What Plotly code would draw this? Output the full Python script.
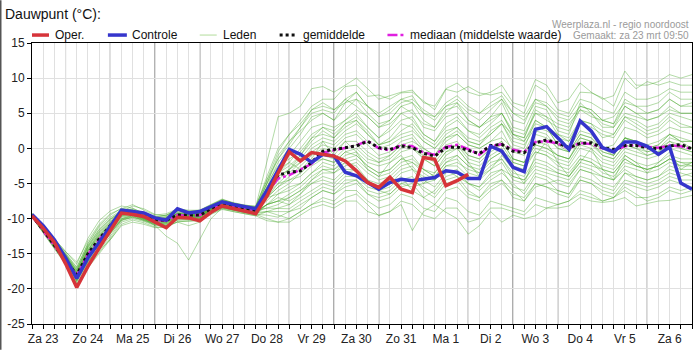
import pandas as pd
import plotly.graph_objects as go

# ---------------- data ----------------
times = pd.date_range("2024-03-23 06:00", periods=60, freq="6h")
day_dates = pd.date_range("2024-03-23", periods=15, freq="D")
day_labels = ["Za 23", "Zo 24", "Ma 25", "Di 26", "Wo 27", "Do 28", "Vr 29", "Za 30",
              "Zo 31", "Ma 1", "Di 2", "Wo 3", "Do 4", "Vr 5", "Za 6"]
y_ticks = [-25, -20, -15, -10, -5, 0, 5, 10, 15]
y_tick_labels = ["-25", "-20", "-15", "-10", "-5", "0", "5", "10", "15"]

oper = [-9.6, -11.4, -13.4, -16.4, -19.8, -16.8, -14.2, -11.8, -9.2, -9.4, -9.7, -10.5, -11.3, -9.8,
        -9.9, -10.3, -9.1, -8.2, -8.6, -9.0, -9.3, -6.8, -3.5, -0.5, -1.8, -0.6, -0.85, -1.1, -1.8,
        -3.2, -4.85, -5.55, -4.1, -5.8, -6.3, -1.3, -1.55, -5.3, -4.6, -3.7]
controle = [-9.4, -11.0, -13.0, -15.6, -18.5, -15.6, -13.4, -11.2, -8.8, -9.0, -9.2, -9.9, -10.2, -8.6,
            -9.2, -9.0, -8.3, -7.6, -8.0, -8.3, -8.6, -6.0, -3.0, -0.15, -0.85, -2.0, -0.85, -1.1, -3.4,
            -3.9, -4.85, -5.8, -4.85, -4.4, -4.6, -4.4, -4.15, -3.2, -3.4, -4.3, -4.3, 0.3, -0.4, -2.7,
            -3.3, 2.7, 3.1, 1.5, -0.15, 3.9, 2.45, 0.1, -0.5, 0.9, 0.9, 0.3, -0.85, 0.2, -4.95, -5.8]
gemiddelde = [-9.6, -11.6, -13.8, -16.0, -18.0, -15.0, -12.9, -11.0, -9.1, -9.1, -9.7, -10.2, -10.2, -9.5,
              -9.5, -9.5, -8.6, -7.9, -8.3, -8.5, -8.8, -6.0, -3.8, -3.4, -3.2, -2.0, -0.4, -0.15, 0.1,
              0.35, 1.0, 0.1, -0.15, 0.35, 0.1, -0.7, -1.1, 0.1, 0.2, -0.3, -0.75, 0.4, 0.55, -0.4, -0.6,
              0.8, 1.2, 0.8, 0.1, 0.7, 0.8, 0.1, -0.15, 0.4, 0.4, 0.1, -0.05, 0.35, 0.55, -0.05]
mediaan = [-9.6, -11.7, -13.8, -16.0, -18.1, -15.1, -13.0, -11.1, -9.2, -9.1, -9.7, -10.2, -10.3, -9.5,
           -9.6, -9.5, -8.6, -7.9, -8.3, -8.6, -8.8, -6.4, -4.3, -3.8, -3.0, -2.2, -0.6, -0.3, 0.0, 0.4,
           1.1, 0.0, -0.3, 0.5, 0.3, -0.6, -0.9, 0.2, 0.5, -0.1, -0.9, 0.3, 0.6, -0.2, -0.5, 0.9, 1.0,
           0.7, 0.0, 0.8, 0.6, 0.0, -0.3, 0.3, 0.5, 0.2, 0.1, 0.4, 0.3, -0.1]

m01 = [-9.4, -11.2, -13, -15, -17, -13.5, -11, -9.5, -8.5, -8.8, -9.5, -10, -9.8, -9, -9.3, -9.2, -8.4, -7.6, -8, -8.4, -8.6,
       -5, -1, 1, 2.5, 4, 5, 4, 5.5, 7, 6, 4.5, 5, 6.5, 7, 5.5, 4.5, 6, 7, 5.5, 5, 6, 7, 5, 4, 6.5, 6, 4.5, 4, 6, 5.5,
       4, 4.5, 6.5, 6, 5, 5.5, 7, 6, 6.5]
m02 = [-9.6, -11.8, -13.8, -16, -18.5, -14.5, -12, -10.5, -9, -8.2, -8.6, -9.4, -9.6, -8.6, -8.8, -8.8, -8, -7.2, -7.8, -8.2, -8.3,
       -2, 4.5, 5, 6, 8.5, 8.8, 8, 9, 10, 8.5, 7, 7.5, 8, 8.3, 6.5, 6, 8.5, 9.3, 8, 7.5, 8, 9, 6.5, 6, 9.8, 9, 6.5, 7, 9.3, 8,
       7, 7.5, 11, 9, 9, 9.5, 10.5, 10, 10.5]
m03 = [-9.2, -11, -12.8, -14.6, -16.5, -12.8, -10.3, -8.9, -8.2, -8.5, -9.3, -9.8, -9.5, -8.7, -9, -8.9, -8.1, -7.3, -7.8, -8.1, -8.3,
       -4.5, -0.5, 2, 4, 6, 7, 7, 8.8, 9, 7.4, 7.6, 7, 7.9, 8, 6.7, 5.5, 8.4, 8, 8.8, 7.9, 7.6, 8, 6, 5, 9, 8, 5.5, 5, 8, 7.9,
       7.2, 6, 10, 8.5, 9.5, 9, 9.5, 9, 9]
m04 = [-9.6, -11.6, -13.6, -15.8, -18.2, -15.5, -13.5, -11.5, -9.6, -9.3, -9.8, -10.4, -10.5, -9.7, -9.7, -9.7, -8.8, -8.1, -8.4, -8.7, -8.9,
       -6, -3, -1, 1, 3, 3.5, 3, 4, 5.5, 4.5, 3, 3.5, 5, 5.5, 3, 2.5, 4.5, 5, 3.5, 3, 4, 5, 2.5, 2, 5, 4.5, 2, 1.5, 4, 3.5,
       2.5, 2, 4.5, 4, 3, 3.5, 5, 4.5, 4]
m05 = [-9.5, -11.4, -13.4, -15.4, -17.8, -14.8, -12.8, -11, -9.3, -9.2, -9.6, -10.1, -10.1, -9.4, -9.6, -9.4, -8.6, -7.8, -8.2, -8.5, -8.7,
       -5.5, -2, 0, 2, 4.5, 5, 4, 6.5, 7, 5, 3.5, 4, 6, 6.5, 4, 3, 5.5, 6, 4, 3, 4.5, 6.5, 3, 2.5, 6, 5.5, 2.5, 2, 6.5, 5,
       3, 3, 5, 4.5, 4, 4.5, 6, 5, 5]
m06 = [-9.5, -11.6, -13.6, -15.6, -18, -15.2, -13.2, -11.2, -9.4, -9, -9.5, -10, -10.3, -9.6, -9.4, -9.6, -8.7, -8, -8.2, -8.6, -8.8,
       -6.5, -4.5, -3, -1.5, 0.5, 1.5, 1, 2.5, 3.5, 2, 0.5, 1, 2.5, 3.5, 1.5, 0.5, 2.5, 3, 1.5, 1, 2, 3.5, 0.5, 0, 4, 3, 0.5, 0, 2.5, 2,
       0, 0.5, 3, 2.5, 1.5, 2, 3, 2.5, 2]
m07 = [-9.7, -11.9, -14, -16, -18.6, -16, -14, -12, -10, -9.5, -10, -10.6, -10.6, -9.8, -9.9, -9.8, -8.9, -8.2, -8.6, -8.9, -9,
       -7, -5, -3.5, -2, 0, 1, 0.5, 2, 2.5, 1, 0, 0.5, 1.5, 2, 0, -1, 1, 2, 0.5, 0, 1, 2.5, -0.5, -1, 2, 1.5, 0, -0.5, 2, 1.5,
       -0.5, -1, 1.5, 1, 0, 0.5, 2, 1.5, 1]
m08 = [-9.4, -11.3, -13.3, -15.3, -17.6, -14.2, -12.2, -10.6, -9.1, -9, -9.6, -10.2, -10, -9.3, -9.5, -9.4, -8.5, -7.8, -8.2, -8.5, -8.7,
       -6, -4, -3, -2, -0.5, 0.5, 0, 1.5, 2, 0.5, -1, -0.5, 1, 1.5, -0.5, -1.5, 0.5, 1, -1, -1.5, 0, 1, -1.5, -2, 0.5, 0, -1, -1.5, 1, 0.5,
       -1, -1.5, 0.5, 0, -0.5, 0, 1, 0.5, 0]
m09 = [-9.6, -11.7, -13.8, -15.9, -18.4, -15.6, -13.6, -11.6, -9.7, -9.4, -9.9, -10.5, -10.4, -9.7, -9.8, -9.7, -8.8, -8.1, -8.5, -8.8, -8.9,
       -7.5, -6, -5, -3.5, -2, -1, -1.5, 0, 0.5, -1, -2, -1.5, 0, 0.5, -1.5, -2.5, -0.5, 0, -2, -2.5, -1, 0, -2.5, -3, -0.5, -1, -2, -2.5, 0, -0.5,
       -2, -2.5, -0.5, -1, -1.5, -1, 0, -0.5, -1]
m10 = [-9.5, -11.5, -13.5, -15.6, -18.1, -15.1, -13.1, -11.1, -9.3, -9.2, -9.8, -10.3, -10.3, -9.6, -9.6, -9.5, -8.7, -8, -8.4, -8.7, -8.8,
       -7, -6.5, -6, -5, -3.5, -2.5, -3, -1.5, -1, -2.5, -3.5, -3, -1.5, -1, -3, -4, -2, -1.5, -3.5, -4, -2.5, -1.5, -4, -4.5, -2, -2.5,
       -3.5, -4, -1.5, -2, -3.5, -4, -2, -2.5, -3, -2.5, -1.5, -2, -2.5]
m11 = [-9.8, -12, -14.2, -16.3, -19, -16.5, -14.5, -12.5, -10.3, -9.8, -10.2, -10.8, -10.8, -10, -10, -10, -9, -8.4, -8.7, -9, -9.2,
       -8, -7.5, -7, -6, -5, -4, -4.5, -3, -3, -4.5, -5, -4.5, -3, -2.5, -4.5, -5.5, -3.5, -3, -5, -5.5, -4, -3, -5.5, -6, -3.5, -4,
       -5, -5.5, -3, -3.5, -5, -5.5, -3.5, -4, -4.5, -4, -3, -3.5, -4]
m12 = [-9.3, -11.4, -13.4, -15.4, -17.9, -15, -13, -11, -9.2, -9.1, -9.7, -10.2, -10.2, -9.5, -9.6, -9.5, -8.6, -7.9, -8.3, -8.6, -8.8,
       -8.5, -8.5, -8.6, -7.5, -6.5, -5.5, -6, -4.5, -4.5, -6, -6.5, -6, -4.5, -4, -6, -7, -5, -4.5, -6.5, -7, -5.5, -4.5, -7, -7.5, -5, -5.5,
       -6.5, -7, -4.5, -5, -6.5, -7, -5, -5.5, -6, -5.5, -4.5, -5, -5.5]
m13 = [-9.7, -12, -14.2, -16.4, -19.2, -16.8, -14.8, -12.8, -10.5, -10, -10.4, -11, -11, -10.2, -10.2, -10.1, -9.2, -8.5, -8.8, -9.1, -9.4,
       -10, -10.5, -10, -9, -8, -7.5, -8, -7, -6.5, -8, -9.6, -9, -8, -11.7, -9, -8, -9.1, -10, -12.2, -11, -9, -10.5, -9.5, -10, -9.6, -8.5,
       -8.5, -8.2, -7, -7.5, -7.7, -7.5, -7, -8.2, -7.8, -7.5, -7.4, -7, -6.7]
m14 = [-9.5, -11.3, -13.2, -15.2, -17.4, -13.8, -11.5, -10, -9, -9, -9.6, -10.1, -9.9, -9.2, -9.4, -9.3, -8.5, -7.7, -8.1, -8.5, -8.6,
       -5.5, -3, -2, -3, -1.5, 1, -1, 1, -0.5, -3, -4, -2, -1, -3, -5, -3.5, -1, 0, -2, -4, -3, -1, -3, -5, -1, 1,
       -2, -4, -2, 0, -3, -4.5, -1, -2, -3.5, -2, -0.5, -3, -2]
m15 = [-9.6, -11.6, -13.7, -15.7, -18.3, -15.3, -13.3, -11.3, -9.5, -9.3, -9.8, -10.3, -10.4, -9.6, -9.7, -9.6, -8.7, -8.1, -8.4, -8.7, -8.9,
       -7, -5.5, -4.5, -4, -2.5, -1.5, -2, -0.5, 0, -1.5, -2, -1, 0.5, 1, 0, -1, 1.5, 2.5, 1, 0.5, 2, 3.5, 2, 1.5, 5, 4,
       3, 2.5, 5.5, 4.5, 4, 3.5, 6, 5, 5, 5.5, 7, 6, 6]
m16 = [-9.3, -11.1, -12.9, -14.7, -16.2, -13.2, -10.8, -9.3, -8.6, -8, -8.8, -9.5, -9.3, -8.6, -8.9, -8.8, -8, -7.3, -7.7, -8.1, -8.2,
       -4.5, -1.5, 1, 3, 5, 5.5, 5, 7, 8, 6, 5, 6, 7, 7.5, 5, 4, 6, 6.5, 4, 3, 4.5, 5, 2, 1, 4, 3,
       0.5, -0.5, 2, 1.5, 0, -1, 1.5, 0.5, -0.5, 0, 1.5, 1, 0]
m17 = [-9.7, -11.8, -13.9, -16.1, -18.7, -16.2, -14.2, -12.2, -10.1, -9.6, -10.1, -10.7, -10.7, -9.9, -9.9, -9.9, -9, -8.3, -8.6, -9, -9.1,
       -8, -7.5, -8, -7, -6, -5, -5.5, -4, -4, -5.5, -6, -5, -3.5, -3, -4, -4.5, -2.5, -2, -3, -3.5, -1.5, -0.5, -1.5, -2, 0.5, 0,
       -1, -1.5, 1, 0.5, -0.5, -1, 1.5, 1, 0, 0.5, 2, 1, 1]
m18 = [-9.4, -11.4, -13.4, -15.4, -17.7, -14.4, -12.4, -10.8, -9.2, -9.1, -9.6, -10.1, -10.1, -9.4, -9.5, -9.4, -8.6, -7.9, -8.3, -8.6, -8.8,
       -6, -3.5, -2, 0, 2, 3, 2.5, 4, 5, 3, 1.5, 2.5, 4, 4.5, 2, 1, 3, 4, 2.5, 2, 3.5, 5, 2, 1.5, 5.5, 4.5,
       3.5, 3, 6, 5.5, 4, 3.5, 7, 6, 6, 6.5, 8, 7, 7]
m19 = [-9.5, -11.5, -13.3, -15.3, -17.8, -14.6, -12.5, -10.8, -9.4, -9.3, -10, -11, -12.5, -13.5, -15.9, -13, -10, -8.5, -8.8, -9.2, -9.5,
       -8, -6.5, -5.5, -5, -3.5, -2, -2.5, -1, -0.5, -2, -2.5, -2, -0.5, 0, -1.5, -2.5, -0.5, 0.5, -1, -1.5, 0, 1, -1.5, -2, 1, 0.5,
       -1, -1.5, 1.5, 1, -1, -1.5, 0.5, 0, -1, -0.5, 1, 0, -0.5]
m20 = [-9.6, -11.8, -14, -16.2, -18.8, -16, -14.5, -13, -11, -10.5, -10.8, -11.3, -11.2, -10.5, -10.3, -10.2, -9.3, -8.6, -9, -9.3, -9.6,
       -9, -8.5, -8, -6.5, -4.5, -3.5, -3.5, -2, -1.5, -3, -4, -3.5, -2, -1.5, -3, -4, -2, -1, -2.5, -3, -1.5, -0.5, -2, -2.5, -0.5, -1,
       -2.5, -3, -1, -1.5, -2.5, -3, -1, -2, -2.5, -2, -1, -1.5, -1.5]
m21 = [-9.4, -11.2, -13.1, -15.1, -17.3, -14, -11.8, -10.2, -9, -9, -9.5, -10, -9.9, -9.1, -9.3, -9.3, -8.4, -7.7, -8.1, -8.4, -8.6,
       -5, -2.5, -1.5, -0.5, 1.5, 2, 1.5, 3, 4, 2.5, 0.5, 1, 2, 2.5, 1, 0, 1.5, 2, 0.5, 0, 1, 1.5, 0, -0.5, 2.5, 2,
       0, -0.5, 1.5, 1, 0, -0.5, 1.5, 1, 0.5, 1, 2, 1, 1]
m22 = [-9.7, -11.9, -14.1, -16.2, -18.9, -16.3, -14, -12, -10.2, -9.8, -10.3, -10.9, -11, -10.2, -10.1, -10, -9.1, -8.4, -8.8, -9.1, -9.4,
       -9.5, -9.8, -9, -8.5, -7, -6, -6.5, -5, -4.5, -6.5, -7.5, -7, -5.5, -5, -7, -8, -6, -5.5, -7, -7.5, -6, -5, -6.5, -7, -5, -5.5,
       -6, -6.5, -4.5, -5, -6, -6.5, -4.5, -5, -5.5, -5, -4, -4.5, -4.5]
m23 = [-9.5, -11.6, -13.7, -15.8, -18.3, -15.4, -13.4, -11.4, -9.6, -9.3, -9.9, -10.4, -10.5, -9.7, -9.7, -9.6, -8.8, -8.1, -8.5, -8.8, -9,
       -8, -7, -7.5, -6.5, -5, -4.5, -5, -3.5, -3, -5, -6, -5.5, -4, -6, -7, -6, -4, -3.5, -5, -6, -4.5, -3.5, -5, -6.5, -4, -4.5,
       -6, -6.5, -4, -4.5, -5.5, -6, -3.5, -4.5, -5, -4.5, -3.5, -4, -3.5]
m24 = [-9.6, -11.7, -13.9, -16, -18.6, -15.8, -13.8, -11.8, -10, -9.6, -10.1, -10.7, -10.6, -9.9, -9.9, -9.8, -8.9, -8.2, -8.6, -8.9, -9.1,
       -9, -9.5, -10, -9, -8, -7, -7.5, -6, -6, -7.5, -8.5, -8, -6.5, -7, -8.5, -9, -7, -7.5, -9, -9.5, -7.5, -8, -8.5, -9, -7, -7.5,
       -8, -7.5, -6, -6.5, -7.5, -7, -5.5, -6.5, -7.5, -7, -6, -6.5, -6]
m25 = [-9.4, -11.3, -13.2, -15.2, -17.5, -14.1, -11.9, -10.4, -9.1, -9, -9.6, -10.1, -10, -9.3, -9.4, -9.3, -8.5, -7.8, -8.2, -8.5, -8.7,
       -6.5, -5, -4.5, -3.5, -2, -1.5, -2, -0.5, -1, -2.5, -3.5, -3, -1.5, -2, -3, -3.5, -1.5, -1, -2.5, -3.5, -2, -1.5, -3.5, -4, -1.5, -2,
       -3, -3.5, -1.5, -2, -3, -3.5, -1.5, -2.5, -3, -2.5, -1.5, -2.5, -2]
m26 = [-9.5, -11.5, -13.5, -15.5, -18, -15, -12.8, -11, -9.3, -9.2, -9.8, -10.5, -11, -10.5, -11, -10.5, -9.2, -8.3, -8.5, -8.8, -9,
       -8.5, -8, -7, -6, -4.5, -3, -3, -2, -2.5, -4.5, -6, -6.5, -5, -5.5, -5, -4.5, -3, -4, -6, -7, -5, -4.5, -6, -7.5, -5.5, -5,
       -4.5, -5, -3, -3.5, -4, -4.5, -3, -4, -4.5, -4, -2.5, -3, -3]
m27 = [-9.5, -11.4, -13.5, -15.6, -17.9, -14.7, -12.6, -10.9, -9.2, -8.9, -9.5, -10, -10, -9.3, -9.4, -9.3, -8.5, -7.8, -8.1, -8.4, -8.6,
       -6, -3.5, -2.5, -1, 1.5, 3, 2, 3.5, 4.5, 3, 1.5, 3, 5, 4, 2, 1, 3.5, 4.5, 2.5, 1.5, 3, 4, 1.5, 1, 3.5, 3,
       2, 1, 4, 3.5, 1.5, 2, 4.5, 3.5, 2.5, 3, 4.5, 3.5, 3]
m28 = [-9.6, -11.5, -13.6, -15.7, -18.2, -15.4, -13.3, -11.3, -9.4, -9.2, -9.7, -10.3, -10.2, -9.5, -9.6, -9.6, -8.7, -8, -8.4, -8.7, -8.8,
       -7, -5.5, -4, -2.5, -1, 0, -0.5, 1, 1, -0.5, -1.5, -1, 0.5, 0, -1, -2, 0, 0.5, -1.5, -2, -0.5, 0.5, -2, -2.5, 0, -0.5,
       -1.5, -2, 0.5, 0, -1.5, -2, 0, -0.5, -1, -0.5, 0.5, 0, -0.5]
m29 = [-9.4, -11.3, -13.2, -15.1, -17.2, -13.9, -11.6, -10.1, -8.9, -8.7, -9.3, -9.8, -9.7, -8.9, -9.1, -9.1, -8.2, -7.5, -7.9, -8.3, -8.4,
       -5, -1.5, 0.5, 3, 5.5, 6.5, 5.5, 7, 6, 4.5, 3, 4, 6, 5, 3.5, 3, 5, 6.5, 5, 4, 5.5, 7, 4, 3.5, 7, 6,
       4, 3.5, 5.5, 5, 3.5, 3, 6, 5, 4, 4.5, 5.5, 5, 5]
m30 = [-9.6, -11.7, -13.9, -16, -18.5, -15.7, -13.7, -11.7, -9.8, -9.5, -10, -10.5, -10.5, -9.8, -9.8, -9.7, -8.8, -8.1, -8.5, -8.8, -9,
       -8, -7.5, -6.5, -5.5, -4, -3, -3.5, -2.5, -2, -3.5, -4.5, -4, -2.5, -2, -3.5, -4.5, -2.5, -2.5, -4, -4.5, -3, -2, -4.5, -5, -3, -3.5,
       -4, -4.5, -2.5, -3, -4, -4.5, -2.5, -3, -3.5, -3, -2, -2.5, -2.5]
m31 = [-9.5, -11.5, -13.4, -15.4, -17.7, -14.5, -12.3, -10.7, -9.1, -9, -9.5, -10, -10, -9.3, -9.4, -9.3, -8.5, -7.8, -8.2, -8.5, -8.7,
       -6, -4, -3, -1, 1, 2.5, 1.5, 3.5, 4, 2, 0.5, 1.5, 3.5, 3, 1, 0, 2, 3, 1, 0.5, 2.5, 3.5, 1, 0.5, 3, 2.5,
       1.5, 1, 3.5, 3, 2, 1.5, 4, 3, 2, 2.5, 4, 3, 3]
m32 = [-9.7, -11.9, -14, -16.1, -18.8, -16.1, -14.1, -12.1, -10.2, -9.7, -10.2, -10.8, -10.8, -10, -10, -9.9, -9, -8.3, -8.7, -9, -9.3,
       -9, -9, -9, -8, -7, -6, -6.5, -5.5, -5, -6.5, -7, -6.5, -5, -4.5, -5.5, -6.5, -4.5, -4, -5, -5.5, -3.5, -3, -4, -4.5, -2.5, -3,
       -3.5, -4, -2, -2.5, -3, -3.5, -1.5, -2.5, -3, -2.5, -1.5, -2, -2]
m33 = [-9.3, -11.1, -13, -14.9, -16.9, -13.6, -11.2, -9.8, -8.8, -8.6, -9.2, -9.7, -9.5, -8.8, -9, -9, -8.2, -7.4, -7.8, -8.2, -8.4,
       -4, 0, 2, 3.5, 5.5, 6, 5.5, 6.5, 8, 6, 4.5, 5.5, 7, 6.5, 5, 4.5, 6.5, 7.5, 6, 5, 6.5, 7.5, 5, 4.5, 7, 6.5,
       5, 4.5, 7, 6.5, 5.5, 5, 8, 7, 7, 7.5, 8.5, 8, 8]
m34 = [-9.8, -12.1, -14.3, -16.5, -19.3, -17, -15, -13, -10.8, -10.2, -10.6, -11.2, -11.2, -10.4, -10.4, -10.3, -9.4, -8.7, -9, -9.3, -9.6,
       -10.3, -10.5, -10.5, -9.5, -8.5, -8, -8.5, -7.5, -7.5, -9, -9.5, -9, -7.5, -8, -9.5, -10, -8.5, -8.5, -10.5, -10, -8.5, -8.5, -9, -9.5, -8, -8.5,
       -8, -7.5, -6.5, -7, -7.5, -7, -6, -7, -7, -6.5, -5.5, -6, -5.5]

leden = [m01, m02, m03, m04, m05, m06, m07, m08, m09, m10, m11, m12, m13, m14, m15, m16, m17,
         m18, m19, m20, m21, m22, m23, m24, m25, m26, m27, m28, m29, m30, m31, m32, m33, m34]
for _k, _m in enumerate(leden):
    assert len(_m) == len(times), (_k + 1, len(_m))

# ---------------- styling ----------------
W, H = 699, 352
ML, MR, MT, MB = 32, 6, 43, 26
PW, PH = W - ML - MR, H - MT - MB


def px(x):
    return (x - ML) / PW


def py(y):
    return (H - MB - y) / PH


FONT = "Liberation Sans, Arial, sans-serif"
RED = "#d6343a"
BLUE = "#3535cc"
GREEN = "rgba(65,165,35,0.40)"
MAGENTA = "#e020e0"

fig = go.Figure()
for m in leden:
    fig.add_trace(go.Scatter(x=times, y=m, mode="lines", name="Leden",
                             line=dict(color=GREEN, width=1), showlegend=False, hoverinfo="skip"))
fig.add_trace(go.Scatter(x=times, y=mediaan, mode="lines", name="mediaan (middelste waarde)",
                         line=dict(color=MAGENTA, width=2.5, dash="10px,3px,3px,3px"),
                         showlegend=False, hoverinfo="skip"))
fig.add_trace(go.Scatter(x=times, y=gemiddelde, mode="lines", name="gemiddelde",
                         line=dict(color="#111111", width=3, dash="dot"),
                         showlegend=False, hoverinfo="skip"))
fig.add_trace(go.Scatter(x=times, y=controle, mode="lines", name="Controle",
                         line=dict(color=BLUE, width=3.5), showlegend=False, hoverinfo="skip"))
fig.add_trace(go.Scatter(x=times[:len(oper)], y=oper, mode="lines", name="Oper.",
                         line=dict(color=RED, width=3.5), showlegend=False, hoverinfo="skip"))

# x ticks every 6 hours, day label at noon
label_by_date = {d.date(): lab for d, lab in zip(day_dates, day_labels)}
tick_text = [label_by_date.get(t.date(), "") if t.hour == 12 else "" for t in times]

shapes = []
for d in day_dates[1:]:
    shapes.append(dict(type="line", xref="x", yref="paper", x0=d, x1=d, y0=0, y1=1,
                       line=dict(color="#555555", width=1), layer="between"))

# custom legend (line samples + text)
legend_items = [
    ("Oper.", 32, 49, 53, dict(color=RED, width=3.5)),
    ("Controle", 108, 127, 130, dict(color=BLUE, width=3.5)),
    ("Leden", 200, 217, 221, dict(color="#b2dc9c", width=1)),
    ("gemiddelde", 280, 295, 301, dict(color="#111111", width=3, dash="dot")),
    ("mediaan (middelste waarde)", 388, 404, 409, dict(color=MAGENTA, width=2.5, dash="10px,3px,3px,3px")),
]
annotations = []
LEG_Y = 35
for name, x0, x1, xt, ln in legend_items:
    shapes.append(dict(type="line", xref="paper", yref="paper", x0=px(x0), x1=px(x1),
                       y0=py(LEG_Y), y1=py(LEG_Y), line=ln))
    annotations.append(dict(text=name, xref="paper", yref="paper", x=px(xt), y=py(LEG_Y),
                            xanchor="left", yanchor="middle", showarrow=False,
                            font=dict(size=12, color="#111", family=FONT)))

annotations.append(dict(text="Dauwpunt (°C):", xref="paper", yref="paper", x=px(3), y=py(14),
                        xanchor="left", yanchor="middle", showarrow=False,
                        font=dict(size=14, color="#111", family=FONT)))
annotations.append(dict(text="Weerplaza.nl - regio noordoost", xref="paper", yref="paper",
                        x=px(692), y=py(24), xanchor="right", yanchor="middle", showarrow=False,
                        font=dict(size=10, color="#9a9a9a", family=FONT)))
annotations.append(dict(text="Gemaakt: za 23 mrt 09:50", xref="paper", yref="paper",
                        x=px(692), y=py(35), xanchor="right", yanchor="middle", showarrow=False,
                        font=dict(size=10, color="#9a9a9a", family=FONT)))
# page frame on the left
shapes.append(dict(type="line", xref="paper", yref="paper", x0=px(0.7), x1=px(0.7),
                   y0=py(H), y1=py(0), line=dict(color="#555555", width=1.5)))

fig.update_layout(
    width=W, height=H,
    margin=dict(l=ML, r=MR, t=MT, b=MB, pad=0),
    paper_bgcolor="white", plot_bgcolor="white",
    font=dict(family=FONT, size=12, color="#222"),
    showlegend=False,
    shapes=shapes, annotations=annotations,
    xaxis=dict(type="date", range=[times[0], times[-1]],
               tickmode="array", tickvals=list(times), ticktext=tick_text,
               showgrid=True, gridcolor="#e0e0e0", gridwidth=1,
               ticks="outside", ticklen=4, tickcolor="#000", tickwidth=1,
               showline=True, linecolor="#000", linewidth=1, mirror=True,
               zeroline=False, tickfont=dict(size=12, color="#222")),
    yaxis=dict(range=[-25, 15], tickmode="array", tickvals=y_ticks, ticktext=y_tick_labels,
               showgrid=True, gridcolor="#e0e0e0", gridwidth=1,
               ticks="outside", ticklen=4, tickcolor="#000", tickwidth=1,
               showline=True, linecolor="#000", linewidth=1, mirror=True,
               zeroline=False, tickfont=dict(size=12, color="#222")),
)

fig.write_html("out.html")
